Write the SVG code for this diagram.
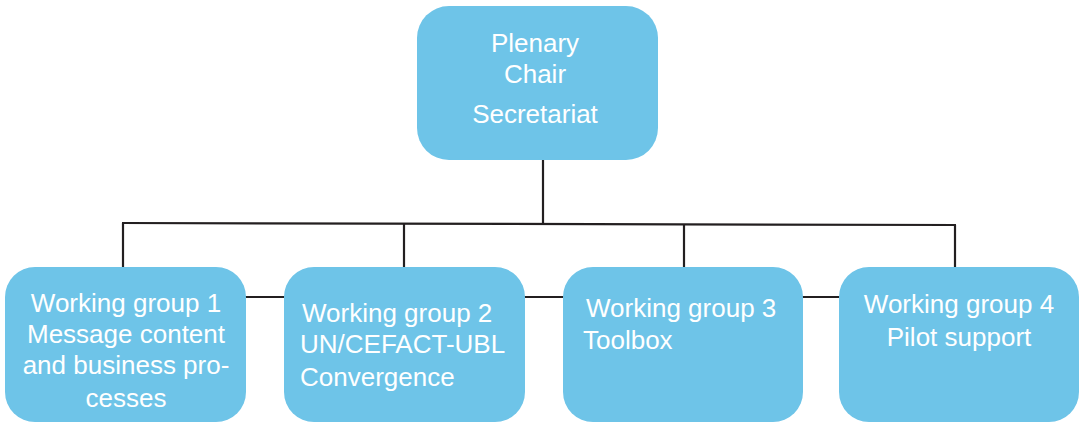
<svg xmlns="http://www.w3.org/2000/svg" width="1084" height="423" viewBox="0 0 1084 423">
<style>
.box{fill:#6ec4e8;}
.t{font-family:"Liberation Sans",Arial,sans-serif;font-size:26px;fill:#ffffff;}
.c{text-anchor:middle;}
.ln{stroke:#231f20;stroke-width:2.2;fill:none;}
</style>
<rect width="1084" height="423" fill="#ffffff"/>
<g id="connectors">
<line class="ln" x1="543" y1="160" x2="543" y2="224"/>
<line class="ln" x1="122" y1="223" x2="956" y2="225"/>
<line class="ln" x1="123" y1="223" x2="123" y2="268"/>
<line class="ln" x1="404" y1="224" x2="404" y2="268"/>
<line class="ln" x1="684" y1="224" x2="684" y2="268"/>
<line class="ln" x1="955" y1="225" x2="955" y2="268"/>
<line class="ln" x1="245" y1="297" x2="285" y2="297"/>
<line class="ln" x1="524" y1="297" x2="564" y2="297"/>
<line class="ln" x1="802" y1="297" x2="840" y2="297"/>
</g>
<g id="plenary">
<rect class="box" x="417" y="6" width="241" height="154" rx="32" ry="32"/>
<text class="t c" x="535" y="52">Plenary</text>
<text class="t c" x="535" y="83">Chair</text>
<text class="t c" x="535" y="123">Secretariat</text>
</g>
<g id="wg1">
<rect class="box" x="5" y="267" width="241" height="155" rx="30" ry="30"/>
<text class="t c" x="126" y="312">Working group 1</text>
<text class="t c" x="126" y="343">Message content</text>
<text class="t c" x="126" y="374">and business pro-</text>
<text class="t c" x="126" y="407">cesses</text>
</g>
<g id="wg2">
<rect class="box" x="284" y="267" width="241" height="155" rx="30" ry="30"/>
<text class="t" x="302" y="322">Working group 2</text>
<text class="t" x="300" y="353">UN/CEFACT-UBL</text>
<text class="t" x="300" y="386">Convergence</text>
</g>
<g id="wg3">
<rect class="box" x="563" y="267" width="240" height="155" rx="30" ry="30"/>
<text class="t" x="586" y="317">Working group 3</text>
<text class="t" x="583" y="349">Toolbox</text>
</g>
<g id="wg4">
<rect class="box" x="839" y="267" width="240" height="155" rx="30" ry="30"/>
<text class="t c" x="959" y="313">Working group 4</text>
<text class="t c" x="959" y="346">Pilot support</text>
</g>
</svg>
